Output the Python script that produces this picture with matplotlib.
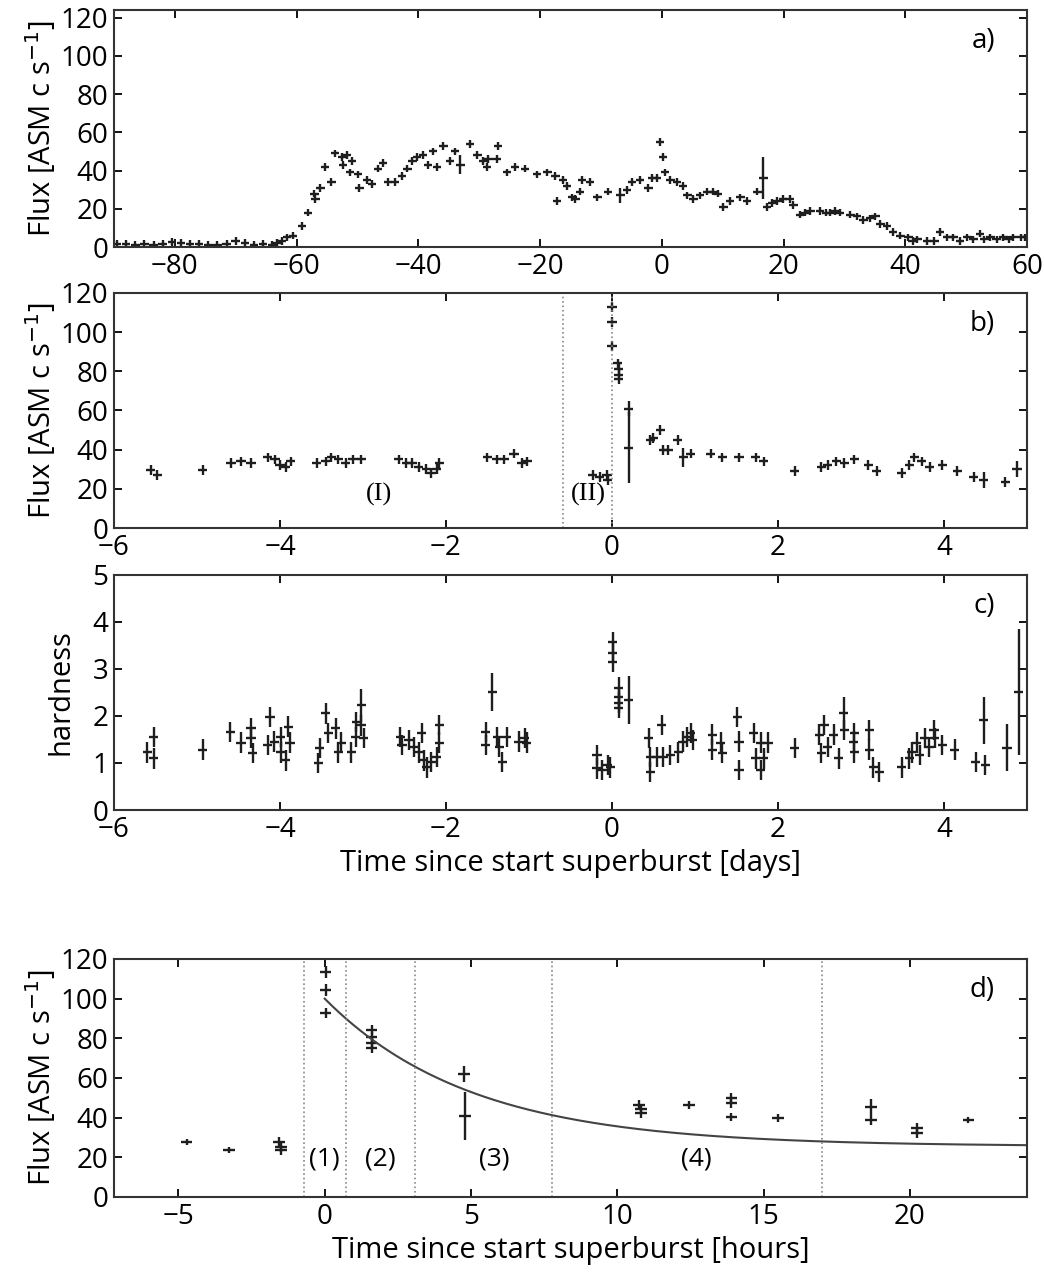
import numpy as np
import matplotlib
matplotlib.use("Agg")
import matplotlib.pyplot as plt

plt.rcParams['font.family'] = ['Open Sans', 'DejaVu Sans']
plt.rcParams['axes.linewidth'] = 1.5
plt.rcParams['axes.edgecolor'] = '#333333'

# ---- panel a: long-term ASM light curve (days) ----
a_t = [-89.5, -88, -86.5, -85, -83.5, -82, -80.5, -79, -77.5, -76, -74.5, -73, -71.5, -70,
       -68.5, -67, -65.5, -64, -63.2, -62.4, -61.6, -60.6, -59.1, -58.1, -57.1, -56.9, -56.1,
       -55.3, -54.3, -53.7, -52.5, -52.4, -51.7, -51.2, -50.9, -49.9, -49.7, -48.4, -47.6,
       -46.6, -45.8, -45.0, -43.8, -42.7, -41.8, -41.0, -40.2, -39.2, -38.4, -37.6, -36.9,
       -35.9, -34.8, -34.0, -33.1, -31.5, -30.3, -29.4, -28.5, -28.7, -26.9, -27.1, -25.4,
       -24.1, -22.5, -20.5, -18.8, -17.5, -17.2, -16.2, -15.6, -14.7, -14.2, -13.4, -13.1,
       -11.8, -10.6, -8.8, -6.8, -5.7, -4.9, -3.6, -2.2, -1.6, -0.8, -0.3, 0.2, 0.5, 1.4,
       2.5, 3.5, 4.2, 5.2, 6.3, 7.5, 8.4, 9.2, 10.1, 11.2, 12.9, 14.0, 15.7, 16.7, 17.3,
       18.1, 19.0, 19.9, 21.0, 21.6, 22.7, 23.5, 24.4, 26.0, 27.0, 27.7, 28.5, 29.3, 31.0,
       32.1, 33.1, 34.2, 35.1, 35.9, 37.0, 38.0, 39.2, 40.5, 41.2, 42.0, 43.6, 44.8, 45.7,
       46.9, 47.9, 49.0, 50.2, 51.2, 52.3, 53.0, 54.0, 55.0, 56.1, 57.0, 57.7, 59.0, 59.7]
a_flux = [1.5, 1.5, 1, 1.5, 1, 1.5, 2.5, 2, 1.5, 1.5, 1, 1, 1.5, 3,
          2, 1, 1.5, 1, 2, 3, 5, 6, 11, 18, 28, 25, 31,
          42, 34, 49, 47, 43, 48, 39, 45, 38, 31, 35, 33,
          41, 44, 34, 34, 37, 41, 45, 47, 48, 43, 50, 42,
          53, 45, 50, 43, 54, 48, 45, 46, 42, 53, 46, 39,
          42, 41, 38, 39, 37, 24, 35, 32, 26, 25, 29, 35,
          34, 26, 29, 27, 30, 34, 35, 31, 36, 36, 55, 47, 39, 35,
          34, 32, 27, 25, 27, 29, 29, 28, 21, 24, 26, 24, 29, 36, 21,
          23, 24, 25, 25, 22, 17, 18, 19, 19, 18, 18, 19, 18, 17,
          16, 14, 15, 16, 12, 11, 8, 6, 5, 3, 4, 3, 3, 8,
          5, 5, 3, 5, 4, 7, 4, 5, 4, 5, 4, 5, 5, 5]
a_err = [2.0] * len(a_flux)
a_err[a_t.index(16.7)] = 11
a_err[a_t.index(-33.1)] = 5
a_err[a_t.index(-6.8)] = 4

# ---- panel b: ASM flux around the superburst (days) ----
b_t = [-5.56, -5.48, -4.93, -4.59, -4.47, -4.35, -4.15, -4.06, -4.00, -3.93, -3.87,
       -3.56, -3.45, -3.38, -3.30, -3.21, -3.12, -3.02, -2.57, -2.48, -2.41, -2.33, -2.24,
       -2.18, -2.11, -2.08, -1.50, -1.39, -1.30, -1.18, -1.09, -1.02, -0.23, -0.15, -0.06,
       -0.05, 0.0, 0.0, 0.0, 0.07, 0.08, 0.08, 0.08, 0.20, 0.20, 0.46, 0.50, 0.58, 0.62,
       0.68, 0.79, 0.86, 0.95, 1.19, 1.33, 1.53, 1.73, 1.83, 2.20, 2.52, 2.60, 2.70, 2.80,
       2.92, 3.09, 3.19, 3.49, 3.58, 3.64, 3.73, 3.83, 3.98, 4.16, 4.36, 4.48, 4.74, 4.88]
b_flux = [29.6, 27, 29.6, 33, 34, 33, 36, 35, 32, 31, 34,
          33, 34, 36, 35, 33, 35, 35, 35, 33, 33, 31, 30,
          28, 30, 33, 36, 35, 35, 38, 33, 34, 27, 26, 27,
          24.5, 113, 105, 93, 84, 81, 78, 76, 61, 41, 45, 46, 50, 40,
          40, 45, 36, 38, 38, 36, 36, 36, 34, 29, 31, 32, 34, 33,
          35, 32, 29, 28, 32, 36, 34, 31, 32, 29, 26, 24.5, 23.5, 30]
b_err = [2.5] * len(b_flux)
b_err[b_t.index(0.20) + 1] = 18
b_err[b_t.index(0.20)] = 4
b_err[b_t.index(0.86)] = 5
b_err[b_t.index(4.48)] = 4
b_err[b_t.index(4.88)] = 4

# ---- panel c: hardness ratio (days) ----
c_t = [-5.60, -5.52, -5.52, -4.93, -4.60, -4.47, -4.35, -4.35, -4.33, -4.12, -4.15, -4.07,
       -3.99, -3.90, -3.88, -3.93, -3.99, -3.54, -3.52, -3.45, -3.42, -3.33, -3.30, -3.26,
       -3.14, -3.09, -3.08, -3.02, -2.99, -3.02, -2.55, -2.53, -2.45, -2.39, -2.33, -2.29,
       -2.27, -2.23, -2.18, -2.11, -2.08, -2.08, -1.52, -1.52, -1.44, -1.38, -1.36, -1.32,
       -1.27, -1.12, -1.03, -1.05, -0.18, -0.18, -0.12, -0.05, -0.02, 0.01, 0.01, 0.01,
       0.08, 0.08, 0.08, 0.08, 0.20, 0.44, 0.46, 0.46, 0.54, 0.60, 0.62, 0.70, 0.80, 0.85,
       0.90, 0.95, 0.97, 1.21, 1.21, 1.31, 1.33, 1.51, 1.53, 1.53, 1.71, 1.73, 1.79, 1.83,
       1.79, 1.88, 2.20, 2.50, 2.52, 2.56, 2.60, 2.67, 2.73, 2.79, 2.80, 2.91, 2.92, 2.92,
       3.10, 3.10, 3.15, 3.22, 3.49, 3.58, 3.61, 3.67, 3.71, 3.77, 3.82, 3.88, 3.89, 3.98,
       4.13, 4.38, 4.48, 4.50, 4.76, 4.90]
c_hard = [1.23, 1.55, 1.10, 1.28, 1.66, 1.43, 1.74, 1.53, 1.21, 1.98, 1.38, 1.45,
          1.55, 1.77, 1.43, 1.06, 1.23, 1.00, 1.32, 2.06, 1.64, 1.74, 1.23, 1.43,
          1.23, 1.55, 1.87, 2.23, 1.53, 1.80, 1.55, 1.38, 1.49, 1.34, 1.23, 1.64,
          1.06, 0.91, 1.02, 1.13, 1.43, 1.81, 1.38, 1.66, 2.51, 1.55, 1.34, 1.02,
          1.55, 1.45, 1.43, 1.53, 1.17, 0.89, 0.85, 0.96, 0.91, 3.57, 3.34, 3.15,
          2.60, 2.40, 2.28, 2.17, 2.34, 1.53, 1.13, 0.81, 1.13, 1.81, 1.13, 1.17, 1.23, 1.45,
          1.55, 1.64, 1.49, 1.60, 1.28, 1.43, 1.21, 1.98, 1.45, 0.85, 1.64, 1.10, 1.43, 1.10,
          0.85, 1.43, 1.32, 1.60, 1.21, 1.81, 1.34, 1.60, 1.10, 2.06, 1.70, 1.45, 1.64, 1.23,
          1.70, 1.28, 0.91, 0.81, 0.91, 1.10, 1.23, 1.43, 1.17, 1.53, 1.34, 1.70, 1.53, 1.38,
          1.28, 1.02, 1.91, 0.96, 1.32, 2.51]
c_err = [0.22] * len(c_hard)
c_err[c_t.index(-1.44)] = 0.4
c_err[c_t.index(0.20)] = 0.5
c_err[c_t.index(4.48)] = 0.5
c_err[c_t.index(4.76)] = 0.5
c_err[c_t.index(4.90)] = 1.35
c_err[c_t.index(-3.02)] = 0.35
c_err[c_t.index(2.79)] = 0.35

# ---- panel d: zoom on the superburst (hours) ----
d_t = [-4.72, -3.28, -1.57, -1.50, -1.50, 0.03, 0.03, 0.03, 1.6, 1.6, 1.6, 1.6,
       4.75, 4.80, 10.73, 10.80, 10.80, 12.44, 13.9, 13.9, 13.9, 15.5, 18.66, 18.66,
       20.23, 20.23, 22.0]
d_flux = [27.7, 23.7, 27.7, 25.0, 23.7, 113.5, 104.4, 92.8, 84.0, 80.7, 77.6, 75.0,
          62.0, 40.8, 46.4, 44.4, 42.3, 46.4, 50.0, 47.4, 40.3, 39.8, 45.4, 38.8,
          34.8, 32.3, 38.8]
d_err = [1.5, 1.5, 2.5, 2.5, 2.5, 3, 3, 2.5, 2.5, 2.5, 2.5, 2.5,
         4, 12, 2.5, 2.5, 2.5, 2, 2.5, 2.5, 2, 2, 4, 2.5,
         2.5, 2.5, 1.5]
# exponential decay fit: F = offset + amp * exp(-t / tau)
fit_offset, fit_amp, fit_tau = 25.5, 74.5, 5.0

b_regions = [-0.59, 0.0]
d_regions = [-0.72, 0.72, 3.1, 7.76, 17.0]
d_region_labels = ['(1)', '(2)', '(3)', '(4)']
d_label_x = [0.0, 1.9, 5.8, 12.7]

fig = plt.figure(figsize=(10.44, 12.72), dpi=100)
ax_a = fig.add_axes([0.1092, 0.8058, 0.8745, 0.1863])
ax_b = fig.add_axes([0.1092, 0.5849, 0.8745, 0.1848])
ax_c = fig.add_axes([0.1092, 0.3632, 0.8745, 0.1848])
ax_d = fig.add_axes([0.1092, 0.0590, 0.8745, 0.1871])

eb = dict(fmt='none', ecolor='#1e1e1e', elinewidth=1.7, capsize=0)

ax_a.errorbar(a_t, a_flux, xerr=0.7, yerr=a_err, **eb)
ax_b.errorbar(b_t, b_flux, xerr=0.055, yerr=b_err, **eb)
ax_c.errorbar(c_t, c_hard, xerr=0.055, yerr=c_err, **eb)
ax_d.errorbar(d_t, d_flux, xerr=0.2, yerr=d_err, **eb)

tfit = np.linspace(0, 24, 300)
ax_d.plot(tfit, fit_offset + fit_amp * np.exp(-tfit / fit_tau), color='#444444', lw=1.5)

for x in b_regions:
    ax_b.axvline(x, color='#888888', ls=':', lw=1.2)
for x in d_regions:
    ax_d.axvline(x, color='#888888', ls=':', lw=1.2)

serif = ['Liberation Serif', 'DejaVu Serif']
ax_b.text(-2.81, 17, '(I)', family=serif, fontsize=19, ha='center', va='center')
ax_b.text(-0.29, 17, '(II)', family=serif, fontsize=19, ha='center', va='center')
for x, lab in zip(d_label_x, d_region_labels):
    ax_d.text(x, 19, lab, fontsize=19, ha='center', va='center')

ax_a.set_xlim(-90, 60)
ax_a.set_ylim(0, 124)
ax_a.set_xticks(np.arange(-80, 61, 20))
ax_b.set_xlim(-6, 5)
ax_b.set_ylim(0, 120)
ax_c.set_xlim(-6, 5)
ax_c.set_ylim(0, 5)
ax_d.set_xlim(-7.2, 24)
ax_d.set_ylim(0, 120)
ax_d.set_xticks([-5, 0, 5, 10, 15, 20])

for ax in (ax_a, ax_b, ax_d):
    ax.set_yticks(np.arange(0, 121, 20))
    ax.set_ylabel(r'Flux [ASM c s$^{-1}$]', fontsize=21, labelpad=2)
ax_c.set_yticks(np.arange(0, 6, 1))
ax_c.set_ylabel('hardness', fontsize=21, labelpad=12)
ax_c.set_xlabel('Time since start superburst [days]', fontsize=21, labelpad=4)
ax_d.set_xlabel('Time since start superburst [hours]', fontsize=21, labelpad=4)

for ax, lab in zip((ax_a, ax_b, ax_c, ax_d), ('a)', 'b)', 'c)', 'd)')):
    ax.text(0.965, 0.87, lab, transform=ax.transAxes, fontsize=20, ha='right', va='center')
    ax.tick_params(direction='in', top=True, right=True, length=6, width=1.3,
                   labelsize=20, pad=4)

fig.savefig('out.png', dpi=100)
